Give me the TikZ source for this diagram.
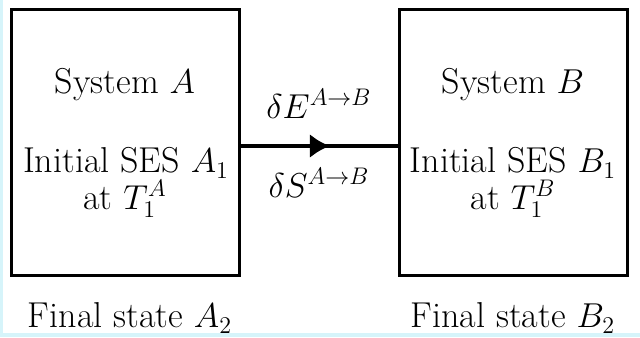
\documentclass[tikz,border=0pt]{standalone}
\usepackage{amsmath,amssymb}
\usetikzlibrary{arrows.meta,decorations.markings}

\definecolor{edgecyan}{RGB}{214,244,250}

\tikzset{
  sysbox/.style={draw,line width=1.5pt,minimum width=114pt,minimum height=133pt},
  boxtext/.style={font=\fontsize{18}{22}\selectfont,align=center},
  flow/.style={line width=2.2pt,postaction={decorate},
    decoration={markings,mark=at position 0.57 with {\arrow{Latex[length=10pt,width=12pt]}}}}
}

\begin{document}
\begin{tikzpicture}[x=0.5pt,y=-0.5pt]
  \useasboundingbox (0,0) rectangle (640,337);
  \fill[edgecyan] (0,0) rectangle (3,337);
  \fill[edgecyan] (0,333) rectangle (640,337);

  % the two systems
  \node[sysbox] (sysA) at (125,142) {};
  \node[sysbox] (sysB) at (513,142) {};

  \node[boxtext] (nameA) at (125,85) {System $A$};
  \node[boxtext] (sesA) at (126,163) {Initial SES $A_1$};
  \node[boxtext] (tempA) at (125,199) {at $T_1^A$};
  \node[boxtext] (nameB) at (513,85) {System $B$};
  \node[boxtext] (sesB) at (513,163) {Initial SES $B_1$};
  \node[boxtext] (tempB) at (513,199) {at $T_1^B$};

  % exchange between them
  \coordinate (outA) at (sysA.east |- 0,146);
  \coordinate (inB) at (sysB.west |- 0,146);
  \draw[flow] (outA) -- (inB);
  \node[boxtext] (dE) at (319,104) {$\delta E^{A\to B}$};
  \node[boxtext] (dS) at (319,183) {$\delta S^{A\to B}$};

  \node[boxtext] (finA) at (130,318) {Final state $A_2$};
  \node[boxtext] (finB) at (513,318) {Final state $B_2$};
\end{tikzpicture}
\end{document}
